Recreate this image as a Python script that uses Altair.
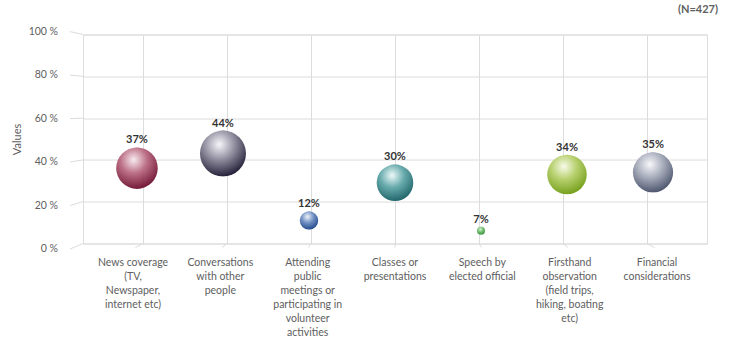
import altair as alt
import pandas as pd

# Survey: sources that shape opinions on the topic (share of respondents)
categories = [
    "News coverage (TV, Newspaper, internet etc)",
    "Conversations with other people",
    "Attending public meetings or participating in volunteer activities",
    "Classes or presentations",
    "Speech by elected official",
    "Firsthand observation (field trips, hiking, boating etc)",
    "Financial considerations",
]
tick_labels = [
    "News coverage\n(TV,\nNewspaper,\ninternet etc)",
    "Conversations\nwith other\npeople",
    "Attending\npublic\nmeetings or\nparticipating in\nvolunteer\nactivities",
    "Classes or\npresentations",
    "Speech by\nelected official",
    "Firsthand\nobservation\n(field trips,\nhiking, boating\netc)",
    "Financial\nconsiderations",
]
values = [37, 44, 12, 30, 7, 34, 35]
y_ticks = [0, 20, 40, 60, 80, 100]
sample_note = ["(N=427)"]

# (highlight, body, rim) shades of each sphere
shades = [
    ("#f8eaf0", "#b8687f", "#6a0a2c"),
    ("#f6f6fa", "#8f8c9e", "#15102a"),
    ("#eef3fb", "#6e8ec2", "#143e86"),
    ("#eef9f9", "#62a8aa", "#125c60"),
    ("#dcf2d8", "#70c070", "#2a862a"),
    ("#f7fbe8", "#b4ce68", "#6d9a0e"),
    ("#f7f8fb", "#a6abba", "#414a64"),
]

W, H = 624, 209
GRID = "#dcdcdc"
TEXT = "#606060"
FONT = "Lato"

# bubble area scale (symbol size = bounding-box area)
SIZE_DOMAIN = [7, 44]
SIZE_RANGE = [64, 2116]


def radius(v):
    lo, hi = SIZE_DOMAIN
    s = SIZE_RANGE[0] + (v - lo) / (hi - lo) * (SIZE_RANGE[1] - SIZE_RANGE[0])
    return s ** 0.5 / 2


df = pd.DataFrame({"category": categories, "tick": tick_labels, "value": values})
ticks_df = pd.DataFrame({"t": y_ticks})
note_df = pd.DataFrame({"note": sample_note})

y_scale = alt.Scale(domain=[0, 100], nice=False, zero=False)
y_axis = alt.Axis(
    values=y_ticks, grid=True, gridColor=GRID, domain=False, ticks=False,
    labels=False, title="Values", titleFont=FONT, titleFontSize=11,
    titleFontWeight="normal", titleColor=TEXT, titleX=-66, titleY=H / 2,
    titleAngle=-90, titleAlign="center", titleBaseline="middle",
)
x_enc = alt.X(
    "category:N", sort=categories,
    scale=alt.Scale(type="point", padding=0.714),
    axis=alt.Axis(grid=True, gridColor=GRID, labels=False, ticks=False,
                  domain=False, title=None),
)

# front edge of the floor/wall: slanted stubs and the percentage labels
front = alt.Chart(ticks_df).transform_calculate(
    tf="1.04 * datum.t - 2.63", lbl="datum.t + ' %'"
)
stubs = front.mark_rule(color=GRID, strokeWidth=1).encode(
    x=alt.value(-13), x2=alt.value(0),
    y=alt.Y("tf:Q", scale=y_scale, axis=y_axis),
    y2=alt.Y2("t:Q"),
)
ylabels = front.mark_text(
    align="right", baseline="middle", font=FONT, fontSize=10.5, color=TEXT
).encode(
    x=alt.value(-25),
    y=alt.Y("tf:Q", scale=y_scale, axis=y_axis),
    text="lbl:N",
)

# sample-size note in the top right corner
note = alt.Chart(note_df).mark_text(
    align="right", baseline="middle", font=FONT, fontSize=11,
    fontWeight="bold", color=TEXT,
).encode(x=alt.value(W + 11), y=alt.value(-24.5), text="note:N")

layers = [stubs, ylabels, note]
base = alt.Chart(df)
for i, (cat, shade) in enumerate(zip(categories, shades)):
    light, body, rim = shade
    mid_shift = (i - 3) * 2.0
    front_shift = (i - 3) * 3.33
    sub = base.transform_filter(alt.datum.category == cat)

    floor = sub.mark_rule(color=GRID, strokeWidth=1, x2Offset=front_shift * 0.75).encode(
        x=x_enc, x2=alt.X2("category:N"),
        y=alt.value(H), y2=alt.value(H + 4),
    )
    grad = alt.RadialGradient(
        gradient="radial", x1=0.42, y1=0.3, r1=0, x2=0.42, y2=0.3, r2=0.72,
        stops=[
            alt.GradientStop(offset=0, color=light),
            alt.GradientStop(offset=0.45, color=body),
            alt.GradientStop(offset=1, color=rim),
        ],
    )
    bubble = sub.mark_circle(
        fill=grad, color=grad, opacity=0.95, xOffset=mid_shift, yOffset=2
    ).encode(
        x=x_enc,
        y=alt.Y("value:Q", scale=y_scale, axis=y_axis),
        size=alt.Size("value:Q",
                      scale=alt.Scale(domain=SIZE_DOMAIN, range=SIZE_RANGE, zero=False),
                      legend=None),
    )
    value_label = sub.transform_calculate(pct="datum.value + '%'").mark_text(
        font=FONT, fontSize=11, fontWeight="bold", color="#333333",
        baseline="middle", xOffset=mid_shift, yOffset=2, dy=-(radius(values[i]) + 7),
    ).encode(
        x=x_enc,
        y=alt.Y("value:Q", scale=y_scale, axis=y_axis),
        text="pct:N",
    )
    cat_label = sub.mark_text(
        font=FONT, fontSize=10.5, color=TEXT, align="center", baseline="top",
        lineBreak="\n", lineHeight=14, xOffset=front_shift,
    ).encode(
        x=x_enc, y=alt.value(H + 14.5), text="tick:N",
    )
    layers += [floor, bubble, value_label, cat_label]

chart = alt.layer(*layers).properties(
    width=W, height=H,
    autosize=alt.AutoSizeParams(type="none"),
    padding={"left": 83, "top": 34.5, "right": 26, "bottom": 101.5},
).configure_view(stroke=None).configure(background="white")

chart.save("out.html", embed_options={"renderer": "svg", "actions": False})
